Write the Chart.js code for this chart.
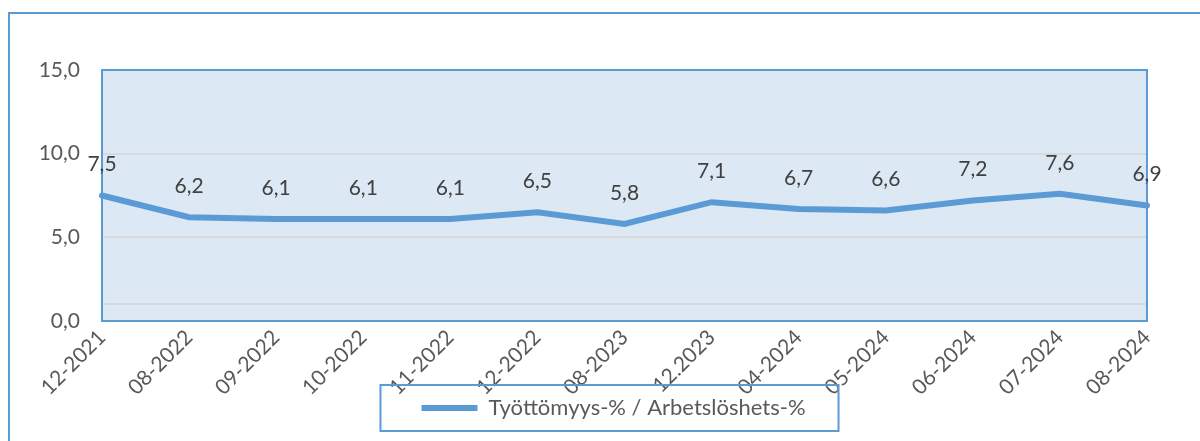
<!DOCTYPE html>
<html>
<head>
<meta charset="utf-8">
<script src="https://cdn.jsdelivr.net/npm/chart.js@4.4.1/dist/chart.umd.min.js"></script>
<style>
    html, body { margin: 0; padding: 0; background: #ffffff; overflow: hidden; }
    #frame {
        position: absolute; left: 8px; top: 12px;
        width: 1250px; height: 500px;
        border: 2px solid #5b9bd5;
        box-sizing: border-box;
    }
    #wrap { position: absolute; left: 0; top: 0; width: 1200px; height: 441px; }
</style>
</head>
<body>
<div id="frame"></div>
<div id="wrap"><canvas id="chart" width="1200" height="441"></canvas></div>
<script>
// Työttömyys-% / Arbetslöshets-%
const categories = ['12-2021', '08-2022', '09-2022', '10-2022', '11-2022', '12-2022', '08-2023',
    '12.2023', '04-2024', '05-2024', '06-2024', '07-2024', '08-2024'];
const unemployment = [7.5, 6.2, 6.1, 6.1, 6.1, 6.5, 5.8, 7.1, 6.7, 6.6, 7.2, 7.6, 6.9];
const yTicks = [0, 1, 5, 10, 15]; // 1 = ylimääräinen apuviiva ilman tekstiä
const seriesName = 'Työttömyys-% / Arbetslöshets-%';

const FONT = 'Lato, "Open Sans", sans-serif';
const BLUE = '#5b9bd5';

const fmt = v => v.toFixed(1).replace('.', ',');

// taustaväri ja reunus piirtoalueelle
const plotArea = {
    id: 'plotArea',
    afterLayout(chart) {
        // selite ylemmäs ja hieman oikealle kuten alkuperäisessä
        const lg = chart.legend;
        const h = lg.bottom - lg.top;
        lg.top = 391;
        lg.bottom = 391 + h;
        lg.left += 40;
        lg.right += 40;
    },
    beforeDraw(chart) {
        const { ctx, chartArea: a } = chart;
        ctx.save();
        ctx.fillStyle = '#dde8f5';
        ctx.fillRect(a.left, a.top, a.right - a.left, a.bottom - a.top);
        ctx.restore();
    },
    beforeDatasetsDraw(chart) {
        const { ctx, chartArea: a } = chart;
        ctx.save();
        ctx.strokeStyle = BLUE;
        ctx.lineWidth = 2;
        ctx.strokeRect(a.left, a.top, a.right - a.left, a.bottom - a.top);
        ctx.restore();
    },
    afterDraw(chart) {
        const { ctx } = chart;
        // laatikko selitteen ympärille
        const boxes = chart.legend.legendHitBoxes;
        if (boxes && boxes.length) {
            const b = boxes[0];
            const cy = b.top + b.height / 2;
            ctx.save();
            ctx.strokeStyle = BLUE;
            ctx.lineWidth = 2;
            ctx.strokeRect(b.left - 41, cy - 23, b.width + 74, 46);
            ctx.restore();
        }
    }
};

// arvot pisteiden yläpuolelle
const valueLabels = {
    id: 'valueLabels',
    afterDatasetsDraw(chart) {
        const { ctx } = chart;
        const meta = chart.getDatasetMeta(0);
        ctx.save();
        ctx.font = '21px ' + FONT;
        ctx.fillStyle = '#404040';
        ctx.textAlign = 'center';
        ctx.textBaseline = 'middle';
        meta.data.forEach((pt, i) => {
            ctx.fillText(fmt(unemployment[i]), pt.x, pt.y - 31);
        });
        ctx.restore();
    }
};

new Chart(document.getElementById('chart'), {
    type: 'line',
    data: {
        labels: categories,
        datasets: [{
            label: seriesName,
            data: unemployment,
            borderColor: BLUE,
            backgroundColor: BLUE,
            borderWidth: 6,
            borderCapStyle: 'round',
            pointRadius: 0,
            tension: 0
        }]
    },
    options: {
        responsive: false,
        animation: false,
        layout: { padding: { left: 0, right: 53, top: 70, bottom: 0 } },
        plugins: {
            tooltip: { enabled: false },
            legend: {
                position: 'bottom',
                labels: {
                    usePointStyle: true,
                    pointStyle: 'line',
                    pointStyleWidth: 56,
                    color: '#595959',
                    font: { family: FONT, size: 22 },
                    padding: 6
                }
            }
        },
        scales: {
            x: {
                offset: false,
                grid: { display: false, drawTicks: false },
                border: { display: false },
                ticks: {
                    autoSkip: false,
                    minRotation: 45,
                    maxRotation: 45,
                    padding: 4,
                    color: '#595959',
                    font: { family: FONT, size: 21 }
                },
                afterFit(scale) { scale.height = 82; }
            },
            y: {
                min: 0,
                max: 15,
                afterBuildTicks(scale) {
                    scale.ticks = yTicks.map(v => ({ value: v }));
                },
                grid: { color: '#d9d9d9', lineWidth: 2, drawTicks: false },
                border: { display: false },
                ticks: {
                    padding: 22,
                    color: '#595959',
                    font: { family: FONT, size: 21 },
                    callback: v => (v === 1 ? '' : fmt(v))
                },
                afterFit(scale) { scale.width = 102; }
            }
        }
    },
    plugins: [plotArea, valueLabels]
});
</script>
</body>
</html>
